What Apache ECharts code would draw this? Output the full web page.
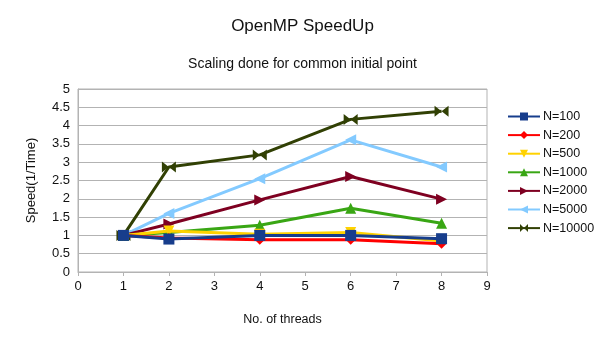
<!DOCTYPE html>
<html><head><meta charset="utf-8">
<script src="https://cdn.jsdelivr.net/npm/echarts@6/dist/echarts.min.js"></script>
<style>html,body{margin:0;padding:0;background:#fff}#c{width:605px;height:340px}</style>
</head><body><div id="c"></div>
<script>
var threads = [1, 2, 4, 6, 8];
var seriesNames = ['N=100', 'N=200', 'N=500', 'N=1000', 'N=2000', 'N=5000', 'N=10000'];
var n100 = [1, 0.90, 1.00, 1.00, 0.91];
var n200 = [1, 0.93, 0.88, 0.88, 0.77];
var n500 = [1, 1.12, 1.03, 1.08, 0.85];
var n1000 = [1, 1.08, 1.28, 1.74, 1.33];
var n2000 = [1, 1.31, 1.97, 2.61, 1.99];
var n5000 = [1, 1.60, 2.55, 3.61, 2.87];
var n10000 = [1, 2.87, 3.20, 4.17, 4.39];
var xTicks = [0, 1, 2, 3, 4, 5, 6, 7, 8, 9];
var yTicks = [0, 0.5, 1, 1.5, 2, 2.5, 3, 3.5, 4, 4.5, 5];

var values = [n100, n200, n500, n1000, n2000, n5000, n10000];
var colors = ['#173d8c', '#ff0000', '#ffd200', '#39a614', '#7e0021', '#83caff', '#314004'];
var symbols = ['rect', 'diamond', 'triangle', 'triangle', 'triangle', 'triangle',
  'path://M0,0L10,5L0,10ZM20,0L10,5L20,10Z'];
var rotates = [0, 0, 180, 0, -90, 90, 0];
var sizes = [11, 10, 11, 11, 11, 11, [14, 11]];
var font = 'Liberation Sans';

var series = [];
for (var i = values.length - 1; i >= 0; i--) {
  series.push({
    name: seriesNames[i],
    type: 'line',
    data: threads.map(function (t, k) { return [t, values[i][k]]; }),
    symbol: symbols[i],
    symbolRotate: rotates[i],
    symbolSize: sizes[i],
    symbolKeepAspect: false,
    showAllSymbol: true,
    lineStyle: { color: colors[i], width: 3 },
    itemStyle: { color: colors[i] },
    z: 10 + (values.length - i),
    animation: false
  });
}

var chart = echarts.init(document.getElementById('c'), null, { renderer: 'canvas' });
chart.setOption({
  animation: false,
  textStyle: { fontFamily: font },
  title: [
    { text: 'OpenMP SpeedUp', left: 'center', top: 13,
      textStyle: { fontFamily: font, fontSize: 17, fontWeight: 'normal', color: '#111' } },
    { text: 'Scaling done for common initial point', left: 'center', top: 52,
      textStyle: { fontFamily: font, fontSize: 14, fontWeight: 'normal', color: '#111' } }
  ],
  legend: {
    orient: 'vertical', left: 502, top: 105, itemWidth: 32, itemHeight: 10, itemGap: 5.6,
    data: seriesNames,
    textStyle: { fontFamily: font, fontSize: 12.5, color: '#111', padding: [0, 0, 0, -2] }
  },
  grid: { left: 78, right: 118, top: 89, bottom: 68, show: true, borderColor: '#b3b3b3', borderWidth: 1 },
  xAxis: {
    type: 'value', min: xTicks[0], max: xTicks[xTicks.length - 1], interval: 1,
    name: 'No. of threads', nameLocation: 'middle', nameGap: 41,
    nameTextStyle: { fontFamily: font, fontSize: 12.5, color: '#111' },
    axisLine: { lineStyle: { color: '#b3b3b3' } },
    axisTick: { show: true, length: 4, lineStyle: { color: '#b3b3b3' } },
    axisLabel: { fontFamily: font, fontSize: 13, color: '#111', margin: 8 },
    splitLine: { show: false }
  },
  yAxis: {
    type: 'value', min: yTicks[0], max: yTicks[yTicks.length - 1], interval: 0.5,
    name: 'Speed(1/Time)', nameLocation: 'middle', nameGap: 40, nameRotate: 90,
    nameTextStyle: { fontFamily: font, fontSize: 13, color: '#111' },
    axisLine: { show: true, lineStyle: { color: '#b3b3b3' } },
    axisTick: { show: false },
    axisLabel: { fontFamily: font, fontSize: 13, color: '#111', margin: 8 },
    splitLine: { lineStyle: { color: '#b3b3b3' } }
  },
  series: series
});
</script></body></html>
